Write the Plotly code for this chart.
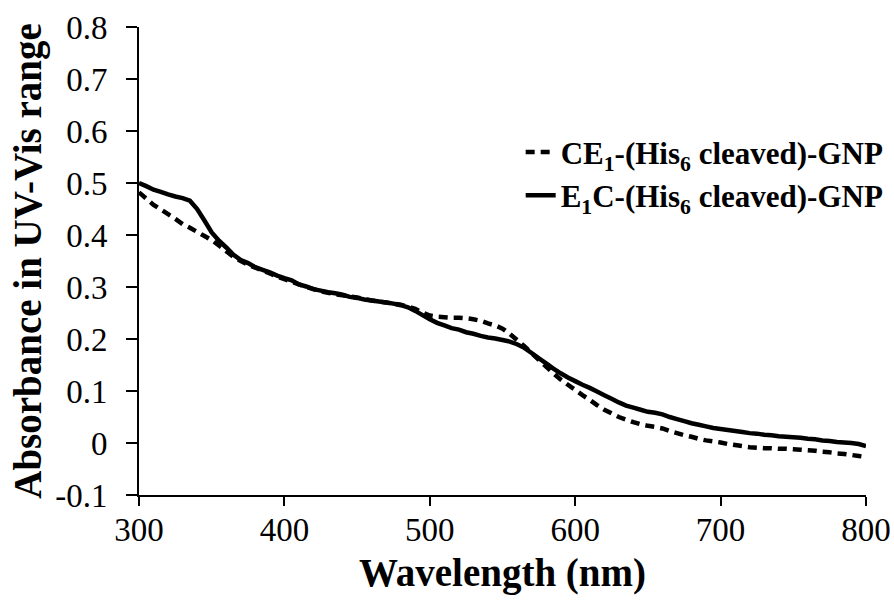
import plotly.graph_objects as go

wavelength = list(range(300, 801, 5))

ce1_cleaved = [
    0.482, 0.470, 0.458, 0.449, 0.440, 0.431, 0.421, 0.414, 0.406, 0.398,
    0.390, 0.380, 0.369, 0.358, 0.350, 0.343, 0.337, 0.332, 0.326, 0.320,
    0.315, 0.310, 0.305, 0.300, 0.296, 0.292, 0.289, 0.286, 0.284, 0.282,
    0.280, 0.277, 0.274, 0.272, 0.270, 0.268, 0.266, 0.262, 0.258, 0.251,
    0.245, 0.243, 0.242, 0.241, 0.241, 0.240, 0.238, 0.235, 0.230, 0.226,
    0.220, 0.210, 0.198, 0.186, 0.173, 0.160, 0.147, 0.134, 0.122, 0.112,
    0.102, 0.092, 0.083, 0.073, 0.064, 0.057, 0.050, 0.045, 0.040, 0.036,
    0.033, 0.031, 0.028, 0.023, 0.019, 0.015, 0.012, 0.008, 0.005, 0.003,
    0.001, -0.002, -0.004, -0.006, -0.008, -0.009, -0.010, -0.010, -0.011, -0.011,
    -0.012, -0.013, -0.014, -0.015, -0.017, -0.018, -0.020, -0.021, -0.023, -0.025,
    -0.027]

e1c_cleaved = [
    0.500, 0.494, 0.487, 0.483, 0.478, 0.474, 0.471, 0.466, 0.450, 0.428,
    0.405, 0.389, 0.376, 0.362, 0.352, 0.346, 0.338, 0.333, 0.328, 0.322,
    0.317, 0.313, 0.305, 0.301, 0.296, 0.293, 0.290, 0.288, 0.285, 0.281,
    0.279, 0.276, 0.274, 0.272, 0.270, 0.268, 0.265, 0.261, 0.254, 0.246,
    0.238, 0.231, 0.226, 0.221, 0.218, 0.213, 0.210, 0.206, 0.203, 0.201,
    0.198, 0.195, 0.190, 0.183, 0.173, 0.163, 0.153, 0.143, 0.134, 0.126,
    0.119, 0.112, 0.106, 0.099, 0.092, 0.085, 0.078, 0.072, 0.068, 0.064,
    0.060, 0.058, 0.055, 0.050, 0.046, 0.042, 0.038, 0.035, 0.032, 0.029,
    0.027, 0.025, 0.023, 0.021, 0.019, 0.018, 0.016, 0.015, 0.013, 0.012,
    0.011, 0.010, 0.008, 0.007, 0.005, 0.004, 0.002, 0.001, 0.000, -0.002,
    -0.006]

series_names = ["CE<sub>1</sub>-(His<sub>6</sub> cleaved)-GNP",
                "E<sub>1</sub>C-(His<sub>6</sub> cleaved)-GNP"]

x_ticks = [300, 400, 500, 600, 700, 800]
y_ticks = [-0.1, 0, 0.1, 0.2, 0.3, 0.4, 0.5, 0.6, 0.7, 0.8]
y_ticklabels = ["-0.1", "0", "0.1", "0.2", "0.3", "0.4", "0.5", "0.6", "0.7", "0.8"]

FONT = "Liberation Serif"

fig = go.Figure()
fig.add_trace(go.Scatter(x=wavelength, y=ce1_cleaved, mode="lines", name=series_names[0],
                         line=dict(color="black", width=4.5, dash="9px,6px", simplify=False)))
fig.add_trace(go.Scatter(x=wavelength, y=e1c_cleaved, mode="lines", name=series_names[1],
                         line=dict(color="black", width=4.5, simplify=False)))

fig.update_layout(
    width=894, height=607,
    paper_bgcolor="white", plot_bgcolor="white",
    margin=dict(l=139, r=28, t=27, b=112, autoexpand=False),
    font=dict(family=FONT, color="black"),
    legend=dict(x=0.525, y=0.79, xanchor="left", yanchor="top",
                font=dict(family=FONT, size=31, weight="bold", color="black"),
                bgcolor="rgba(0,0,0,0)", tracegroupgap=0),
    showlegend=True,
)
fig.update_xaxes(
    range=[300, 800], tickvals=x_ticks, ticktext=[str(v) for v in x_ticks],
    showgrid=False, zeroline=False, showline=True, linecolor="black", linewidth=2,
    ticks="outside", ticklen=9, tickwidth=2, tickcolor="black", automargin=False,
    tickfont=dict(family=FONT, size=33, color="black"), ticklabelstandoff=-5,
    title=dict(text="Wavelength (nm)", font=dict(family=FONT, size=39, weight="bold", color="black"), standoff=12),
)
fig.update_yaxes(
    range=[-0.1, 0.8], tickvals=y_ticks, ticktext=y_ticklabels,
    showgrid=False, zeroline=False, showline=True, linecolor="black", linewidth=2,
    ticks="outside", ticklen=11, tickwidth=2, tickcolor="black", automargin=False,
    tickfont=dict(family=FONT, size=33, color="black"), ticklabelstandoff=12,
    title=dict(text="Absorbance in UV-Vis range", font=dict(family=FONT, size=39, weight="bold", color="black"), standoff=2),
)

fig.write_html("out.html", config={"displayModeBar": False},
               post_script="document.body.style.margin='0';document.body.style.overflow='hidden';")
